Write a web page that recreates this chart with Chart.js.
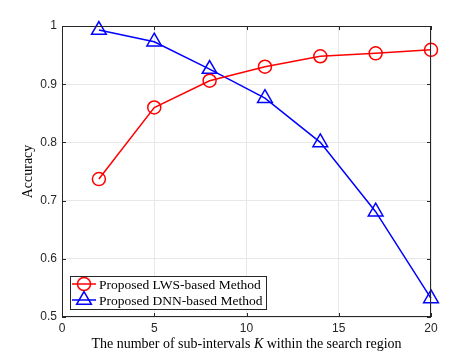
<!DOCTYPE html>
<html>
<head>
<meta charset="utf-8">
<script src="https://cdn.jsdelivr.net/npm/chart.js@4"></script>
<style>
  html, body { margin: 0; padding: 0; background: #fff; }
  #wrap { width: 476px; height: 357px; }
</style>
</head>
<body>
<div id="wrap"><canvas id="accChart" width="476" height="357"></canvas></div>
<script>
// sub-intervals K
const kValues = [2, 5, 8, 11, 14, 17, 20];
const lwsAccuracy = [0.737, 0.860, 0.906, 0.930, 0.948, 0.953, 0.959];
const dnnAccuracy = [0.993, 0.973, 0.926, 0.876, 0.800, 0.681, 0.532];
const xTicks = [0, 5, 10, 15, 20];
const yTicks = [0.5, 0.6, 0.7, 0.8, 0.9, 1];
const seriesNames = ['Proposed LWS-based Method', 'Proposed DNN-based Method'];

const axisColor = '#262626';

// box + inward ticks like matlab
const boxPlugin = {
    id: 'boxPlugin',
    afterDatasetsDraw(chart) {
        const ctx = chart.ctx;
        const a = chart.chartArea;
        const xs = chart.scales.x;
        const ys = chart.scales.y;
        ctx.save();
        ctx.strokeStyle = axisColor;
        ctx.lineWidth = 1;
        ctx.strokeRect(a.left + 0.5, a.top + 0.5, a.right - a.left - 1, a.bottom - a.top - 1);
        const len = 4;
        ctx.beginPath();
        xTicks.forEach(v => {
            const px = Math.round(xs.getPixelForValue(v)) + 0.5;
            ctx.moveTo(px, a.bottom); ctx.lineTo(px, a.bottom - len);
            ctx.moveTo(px, a.top); ctx.lineTo(px, a.top + len);
        });
        yTicks.forEach(v => {
            const py = Math.round(ys.getPixelForValue(v)) + 0.5;
            ctx.moveTo(a.left, py); ctx.lineTo(a.left + len, py);
            ctx.moveTo(a.right, py); ctx.lineTo(a.right - len, py);
        });
        ctx.stroke();
        ctx.restore();
    },
    afterDraw(chart) {
        const ctx = chart.ctx;
        const a = chart.chartArea;
        ctx.save();
        // x axis title with italic K
        const parts = [
            ['The number of sub-intervals ', 'normal'],
            ['K', 'italic'],
            [' within the search region', 'normal']
        ];
        let total = 0;
        parts.forEach(p => {
            ctx.font = p[1] + ' 14px "Liberation Serif", "Times New Roman", serif';
            total += ctx.measureText(p[0]).width;
        });
        let x = (a.left + a.right) / 2 - total / 2;
        ctx.fillStyle = '#000';
        ctx.textBaseline = 'middle';
        ctx.textAlign = 'left';
        parts.forEach(p => {
            ctx.font = p[1] + ' 14px "Liberation Serif", "Times New Roman", serif';
            ctx.fillText(p[0], x, 344);
            x += ctx.measureText(p[0]).width;
        });

        // legend inside plot
        const lx = 70, ly = 276, lw = 196, lh = 33;
        ctx.fillStyle = '#fff';
        ctx.fillRect(lx, ly, lw, lh);
        ctx.strokeStyle = axisColor;
        ctx.lineWidth = 1;
        ctx.strokeRect(lx + 0.5, ly + 0.5, lw, lh);
        chart.data.datasets.forEach((ds, i) => {
            const cy = ly + 8 + i * 16;
            ctx.strokeStyle = ds.borderColor;
            ctx.lineWidth = 1.5;
            ctx.beginPath();
            ctx.moveTo(lx + 2, cy); ctx.lineTo(lx + 26, cy);
            ctx.stroke();
            ctx.fillStyle = 'rgba(0,0,0,0)';
            Chart.helpers.drawPoint(ctx, {
                pointStyle: ds.pointStyle,
                radius: ds.pointRadius,
                borderWidth: 1.5
            }, lx + 14, cy);
            ctx.fillStyle = '#000';
            ctx.font = '13.5px "Liberation Serif", "Times New Roman", serif';
            ctx.fillText(ds.label, lx + 29, cy + 1);
        });
        ctx.restore();
    }
};

const ctx = document.getElementById('accChart').getContext('2d');
const lwsPoints = kValues.map((k, i) => ({ x: k, y: lwsAccuracy[i] }));
const dnnPoints = kValues.map((k, i) => ({ x: k, y: dnnAccuracy[i] }));

new Chart(ctx, {
    type: 'line',
    data: {
        datasets: [{
            label: seriesNames[0],
            data: lwsPoints,
            borderColor: '#ff0000',
            backgroundColor: 'rgba(0,0,0,0)',
            pointBorderColor: '#ff0000',
            pointBackgroundColor: 'rgba(0,0,0,0)',
            pointStyle: 'circle',
            pointRadius: 6.5,
            pointBorderWidth: 1.5,
            borderWidth: 1.5,
            fill: false
        }, {
            label: seriesNames[1],
            data: dnnPoints,
            borderColor: '#0000ff',
            backgroundColor: 'rgba(0,0,0,0)',
            pointBorderColor: '#0000ff',
            pointBackgroundColor: 'rgba(0,0,0,0)',
            pointStyle: 'triangle',
            pointRadius: 8.5,
            pointBorderWidth: 1.5,
            borderWidth: 1.5,
            fill: false
        }]
    },
    options: {
        responsive: false,
        animation: false,
        clip: false,
        layout: { padding: { left: 20, right: 45, top: 26, bottom: 0 } },
        plugins: {
            legend: { display: false },
            tooltip: { enabled: false }
        },
        scales: {
            x: {
                type: 'linear',
                min: 0,
                max: 20,
                afterBuildTicks: axis => { axis.ticks = xTicks.map(v => ({ value: v })); },
                afterFit: axis => { axis.height = 40; },
                grid: { color: '#e8e8e8', drawTicks: false },
                border: { display: false },
                ticks: {
                    padding: 4,
                    color: axisColor,
                    font: { family: '"Liberation Sans", Arial, sans-serif', size: 12 }
                }
            },
            y: {
                min: 0.5,
                max: 1,
                afterBuildTicks: axis => { axis.ticks = yTicks.map(v => ({ value: v })); },
                afterFit: axis => { axis.width = 42; },
                grid: { color: '#e8e8e8', drawTicks: false },
                border: { display: false },
                title: {
                    display: true,
                    text: 'Accuracy',
                    color: '#000',
                    padding: { top: 0, bottom: 0 },
                    font: { family: '"Liberation Serif", "Times New Roman", serif', size: 14 }
                },
                ticks: {
                    padding: 5,
                    color: axisColor,
                    callback: v => String(Math.round(v * 10) / 10),
                    font: { family: '"Liberation Sans", Arial, sans-serif', size: 12 }
                }
            }
        }
    },
    plugins: [boxPlugin]
});
</script>
</body>
</html>
